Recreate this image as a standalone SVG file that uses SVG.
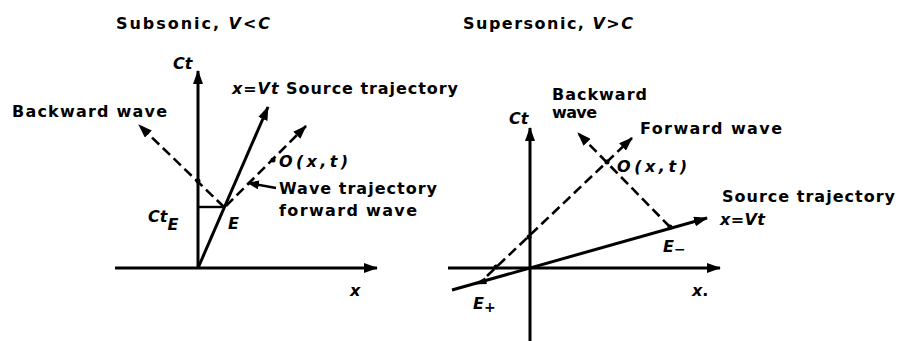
<svg xmlns="http://www.w3.org/2000/svg" width="899" height="341" viewBox="0 0 899 341">
<style>
text{font-family:"DejaVu Sans","Liberation Sans",sans-serif;font-weight:bold;font-size:16px;fill:#000}
.i{font-style:italic}
.ax{stroke:#000;stroke-width:3;fill:none}
.src{stroke:#000;stroke-width:3;fill:none}
.dash{stroke:#000;stroke-width:2.6;fill:none;stroke-dasharray:10 5}
.thin{stroke:#000;stroke-width:2.4;fill:none}
.dot{fill:#000}
</style>
<defs>
<marker id="ah" markerUnits="userSpaceOnUse" viewBox="0 0 14 10" refX="13" refY="5" markerWidth="14" markerHeight="10" orient="auto">
<path d="M0,0 L14,5 L0,10 z" fill="#000"/>
</marker>
<marker id="ahs" markerUnits="userSpaceOnUse" viewBox="0 0 12 9" refX="11" refY="4.5" markerWidth="12" markerHeight="9" orient="auto">
<path d="M0,0 L12,4.5 L0,9 z" fill="#000"/>
</marker>
</defs>
<rect width="899" height="341" fill="#fff"/>

<g id="subsonic">
<text x="116" y="29" textLength="154" lengthAdjust="spacing">Subsonic, <tspan class="i">V&lt;C</tspan></text>
<text class="i" x="173" y="69">Ct</text>
<text x="232" y="94" textLength="226" lengthAdjust="spacing"><tspan class="i">x=Vt</tspan> Source trajectory</text>
<text x="12" y="117" textLength="155" lengthAdjust="spacing">Backward wave</text>
<text class="i" x="279" y="167" textLength="69" lengthAdjust="spacing">O(x,t)</text>
<text x="279" y="194" textLength="158" lengthAdjust="spacing">Wave trajectory</text>
<text x="279" y="216" textLength="138" lengthAdjust="spacing">forward wave</text>
<text class="i" x="148" y="222">Ct<tspan dy="8">E</tspan></text>
<text class="i" x="228" y="229">E</text>
<text class="i" x="350" y="296">x</text>
<circle class="dot" cx="198" cy="181" r="2.5"/>
<circle class="dot" cx="273" cy="160" r="2.5"/>
</g>

<g id="supersonic">
<text x="463" y="29" textLength="170" lengthAdjust="spacing">Supersonic, <tspan class="i">V&gt;C</tspan></text>
<text class="i" x="509" y="124">Ct</text>
<text x="552" y="100" font-size="14" textLength="95" lengthAdjust="spacing">Backward</text>
<text x="552" y="118" font-size="14" textLength="45" lengthAdjust="spacing">wave</text>
<text x="640" y="134" textLength="142" lengthAdjust="spacing">Forward wave</text>
<text class="i" x="617" y="172" textLength="70" lengthAdjust="spacing">O(x,t)</text>
<text x="722" y="202" textLength="173" lengthAdjust="spacing">Source trajectory</text>
<text class="i" x="720" y="225" textLength="45" lengthAdjust="spacing">x=Vt</text>
<text class="i" x="663" y="252">E<tspan dy="2" font-size="14" font-style="normal">−</tspan></text>
<text class="i" x="473" y="309">E<tspan dy="3" font-size="14" font-style="normal">+</tspan></text>
<text class="i" x="692" y="296">x<tspan font-style="normal">.</tspan></text>
<circle class="dot" cx="607" cy="162" r="2.5"/>
<circle class="dot" cx="529" cy="237" r="2.5"/>
<circle class="dot" cx="496" cy="267" r="2.5"/>
<circle class="dot" cx="670" cy="227" r="2.5"/>
</g>

<g id="connectors">
<line class="ax" x1="115" y1="268" x2="377" y2="268" marker-end="url(#ah)"/>
<line class="ax" x1="198" y1="268" x2="198" y2="71" marker-end="url(#ah)"/>
<line class="src" x1="198" y1="268" x2="268" y2="107" marker-end="url(#ah)"/>
<line class="thin" x1="198" y1="207" x2="225" y2="207"/>
<line class="dash" x1="224" y1="207" x2="139" y2="125" marker-end="url(#ah)"/>
<line class="dash" x1="226" y1="206" x2="306" y2="126" marker-end="url(#ah)"/>
<line class="thin" x1="276" y1="188" x2="248" y2="183" marker-end="url(#ahs)"/>

<line class="ax" x1="448" y1="268" x2="720" y2="268" marker-end="url(#ah)"/>
<line class="ax" x1="530" y1="341" x2="530" y2="128" marker-end="url(#ah)"/>
<line class="src" x1="452" y1="290" x2="707" y2="218" marker-end="url(#ah)"/>
<line class="dash" x1="670" y1="227" x2="578" y2="133" marker-end="url(#ah)"/>
<line class="dash" x1="487" y1="276" x2="632" y2="138" marker-end="url(#ah)"/>
<path d="M473,284.5 L485,277.5 L487,284 z" fill="#000"/>
</g>
</svg>
